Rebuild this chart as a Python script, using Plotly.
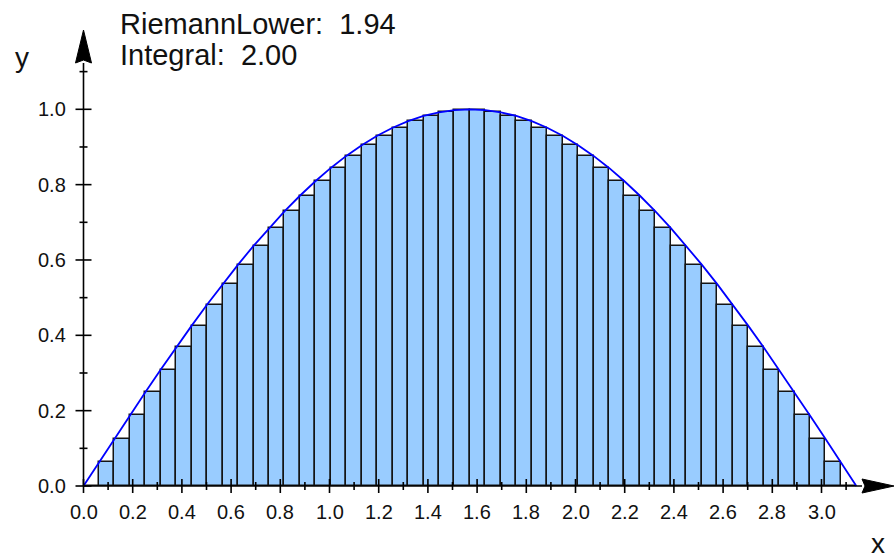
import numpy as np
import plotly.graph_objects as go

# ---- data -----------------------------------------------------------------
n_sub = 50                                   # number of subintervals on [0, pi]
x_start, x_end = 0.0, 3.14159265
x_nodes = np.linspace(x_start, x_end, n_sub + 1)

# f(x) = sin(x) at the nodes from 0 up to pi/2 (the second half mirrors it)
f_half = [0.0, 0.06279, 0.12533, 0.18738, 0.24869, 0.30902, 0.36812, 0.42578,
          0.48175, 0.53583, 0.58779, 0.63742, 0.68455, 0.72897, 0.77051,
          0.80902, 0.84433, 0.87631, 0.90483, 0.92978, 0.95106, 0.96858,
          0.98229, 0.99211, 0.99803, 1.0]
f_nodes = np.array(f_half + f_half[-2::-1])

x_tick_vals = [0.0, 0.2, 0.4, 0.6, 0.8, 1.0, 1.2, 1.4, 1.6, 1.8, 2.0, 2.2,
               2.4, 2.6, 2.8, 3.0]
x_tick_text = ["0.0", "0.2", "0.4", "0.6", "0.8", "1.0", "1.2", "1.4", "1.6",
               "1.8", "2.0", "2.2", "2.4", "2.6", "2.8", "3.0"]
x_minor_vals = [0.1, 0.3, 0.5, 0.7, 0.9, 1.1, 1.3, 1.5, 1.7, 1.9, 2.1, 2.3,
                2.5, 2.7, 2.9, 3.1]
y_tick_vals = [0.0, 0.2, 0.4, 0.6, 0.8, 1.0]
y_tick_text = ["0.0", "0.2", "0.4", "0.6", "0.8", "1.0"]
y_minor_vals = [0.1, 0.3, 0.5, 0.7, 0.9, 1.1]

# ---- lower Riemann sum ------------------------------------------------------
h = x_nodes[1] - x_nodes[0]
bar_heights = np.minimum(f_nodes[:-1], f_nodes[1:])
bar_centers = (x_nodes[:-1] + x_nodes[1:]) / 2
riemann_lower = bar_heights.sum() * h
integral = np.trapezoid(f_nodes, x_nodes)

# ---- canvas geometry --------------------------------------------------------
W, H = 895, 558
PX_X, PX_Y = 246.0, 376.7          # pixels per unit on each axis
ORIGIN_PX = (83.5, 486.0)          # pixel position of (0, 0)
xr = [-ORIGIN_PX[0] / PX_X, (W - ORIGIN_PX[0]) / PX_X]
yr = [-(H - ORIGIN_PX[1]) / PX_Y, ORIGIN_PX[1] / PX_Y]


def dx(p):   # pixel length -> x units
    return p / PX_X


def dy(p):   # pixel length -> y units
    return p / PX_Y


def paper_x(px):
    return px / W


def paper_y(py):
    return 1 - py / H


FONT = "Liberation Sans, Arial, sans-serif"
AXIS_COL = "black"
TEXT_COL = "#111"

fig = go.Figure()

fig.add_trace(go.Bar(
    x=bar_centers, y=bar_heights, width=h,
    marker=dict(color="rgb(153,204,255)",
                line=dict(color="rgb(20,20,20)", width=1.5)),
    hoverinfo="skip"))

fig.add_trace(go.Scatter(
    x=x_nodes, y=f_nodes, mode="lines",
    line=dict(color="rgb(0,0,255)", width=1.8), hoverinfo="skip"))

shapes = []
# axis lines
x_arrow_base = x_end + dx(862 - (ORIGIN_PX[0] + x_end * PX_X))
y_arrow_base = dy(ORIGIN_PX[1] - 63)
shapes.append(dict(type="line", x0=0, x1=x_arrow_base, y0=0, y1=0,
                   line=dict(color=AXIS_COL, width=1.6)))
shapes.append(dict(type="line", x0=0, x1=0, y0=0, y1=y_arrow_base,
                   line=dict(color=AXIS_COL, width=1.6)))

# arrow heads
xt = x_arrow_base + dx(32)
shapes.append(dict(
    type="path",
    path=(f"M {xt},0 L {x_arrow_base},{dy(7)} L {x_arrow_base + dx(3)},0 "
          f"L {x_arrow_base},{-dy(7)} Z"),
    fillcolor=AXIS_COL, line=dict(color=AXIS_COL, width=1)))
yt = y_arrow_base + dy(33)
shapes.append(dict(
    type="path",
    path=(f"M 0,{yt} L {dx(8)},{y_arrow_base} L 0,{y_arrow_base + dy(3)} "
          f"L {-dx(8)},{y_arrow_base} Z"),
    fillcolor=AXIS_COL, line=dict(color=AXIS_COL, width=1)))

# tick marks crossing the axes
for v in x_tick_vals:
    shapes.append(dict(type="line", x0=v, x1=v, y0=-dy(7), y1=dy(7),
                       line=dict(color=AXIS_COL, width=1.6)))
for v in x_minor_vals:
    shapes.append(dict(type="line", x0=v, x1=v, y0=-dy(4), y1=dy(4),
                       line=dict(color=AXIS_COL, width=1.6)))
for v in y_tick_vals:
    shapes.append(dict(type="line", x0=-dx(8), x1=dx(8), y0=v, y1=v,
                       line=dict(color=AXIS_COL, width=1.6)))
for v in y_minor_vals:
    shapes.append(dict(type="line", x0=-dx(4), x1=dx(4), y0=v, y1=v,
                       line=dict(color=AXIS_COL, width=1.6)))

annotations = []
for v, t in zip(x_tick_vals, x_tick_text):
    annotations.append(dict(x=v, y=-dy(512 - ORIGIN_PX[1]), xref="x", yref="y",
                            text=t, showarrow=False, xanchor="center",
                            yanchor="middle",
                            font=dict(family=FONT, size=20, color=TEXT_COL)))
for v, t in zip(y_tick_vals, y_tick_text):
    annotations.append(dict(x=-dx(ORIGIN_PX[0] - 68), y=v, xref="x", yref="y",
                            text=t, showarrow=False, xanchor="right",
                            yanchor="middle",
                            font=dict(family=FONT, size=20, color=TEXT_COL)))

annotations.append(dict(x=paper_x(877.5), y=paper_y(543), xref="paper",
                        yref="paper", text="x", showarrow=False,
                        xanchor="center", yanchor="middle",
                        font=dict(family=FONT, size=28, color=TEXT_COL)))
annotations.append(dict(x=paper_x(22), y=paper_y(57), xref="paper",
                        yref="paper", text="y", showarrow=False,
                        xanchor="center", yanchor="middle",
                        font=dict(family=FONT, size=28, color=TEXT_COL)))

annotations.append(dict(x=paper_x(118), y=paper_y(24), xref="paper",
                        yref="paper",
                        text=f"RiemannLower:\u00a0\u00a0{riemann_lower:.2f}",
                        showarrow=False, xanchor="left", yanchor="middle",
                        font=dict(family=FONT, size=29, color=TEXT_COL)))
annotations.append(dict(x=paper_x(118), y=paper_y(55), xref="paper",
                        yref="paper",
                        text=f"Integral:\u00a0\u00a0{integral:.2f}",
                        showarrow=False, xanchor="left", yanchor="middle",
                        font=dict(family=FONT, size=29, color=TEXT_COL)))

fig.update_layout(
    width=W, height=H,
    margin=dict(l=0, r=0, t=0, b=0),
    paper_bgcolor="white", plot_bgcolor="white",
    showlegend=False,
    xaxis=dict(range=xr, visible=False, fixedrange=True),
    yaxis=dict(range=yr, visible=False, fixedrange=True),
    shapes=shapes, annotations=annotations,
    bargap=0,
)

fig.write_html("out.html")
